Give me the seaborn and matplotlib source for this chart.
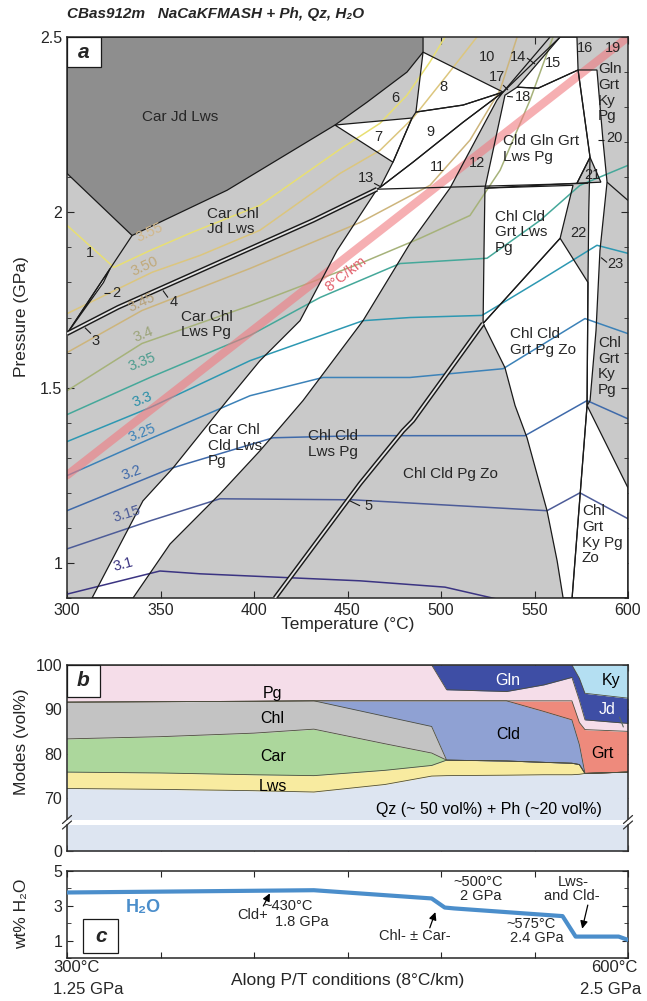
import numpy as np
import pandas as pd
import seaborn as sns
import matplotlib.pyplot as plt
from matplotlib.patches import Polygon, Rectangle
from matplotlib.lines import Line2D
from matplotlib.ticker import MultipleLocator, FuncFormatter

sns.set_style("ticks")
plt.rcParams['font.family'] = ['Liberation Sans', 'DejaVu Sans']
plt.rcParams['axes.linewidth'] = 1.1

# ---------------- panel a: fields (T degC, P GPa) ----------------
field_car_jd_lws = [(300, 2.5), (490.4, 2.5), (490.4, 2.457), (481.8, 2.400), (460.4, 2.314),
                    (443.3, 2.249), (385.6, 2.063), (334.8, 1.934), (300, 2.111)]
field_band = [(313.4, 0.9), (340.6, 1.177), (356.7, 1.271), (385.6, 1.463), (403.2, 1.577),
              (424.6, 1.691), (444.4, 1.891), (465.8, 2.066), (467.4, 2.071), (485.0, 2.143),
              (511.8, 2.257), (533.2, 2.343), (529.9, 2.320), (504.8, 2.069), (483.4, 1.911),
              (458.3, 1.691), (426.2, 1.463), (403.2, 1.320), (381.8, 1.197), (355.1, 1.054),
              (335.3, 0.9)]
field_7 = [(443.3, 2.249), (484.5, 2.269), (474.3, 2.143)]
field_8 = [(490.4, 2.457), (533.2, 2.343), (511.8, 2.306), (486.6, 2.286)]
field_9 = [(486.6, 2.286), (511.8, 2.306), (533.2, 2.343), (511.8, 2.257), (485.0, 2.143),
           (467.4, 2.071), (474.3, 2.143), (484.5, 2.269)]
field_15 = [(540.7, 2.357), (563.7, 2.5), (572.7, 2.5), (573.3, 2.406), (551.9, 2.354)]
field_cgg = [(534.2, 2.334), (540.7, 2.357), (551.9, 2.354), (573.3, 2.406), (579.7, 2.157),
             (572.7, 2.083), (523.5, 2.069)]
field_strip = [(573.3, 2.406), (579.7, 2.157), (579.0, 2.0), (578.6, 1.800), (578.1, 1.449),
               (579.7, 1.463), (582.9, 1.663), (585.0, 1.891), (588.8, 2.086), (586.6, 2.206),
               (583.4, 2.406)]
field_21 = [(572.7, 2.083), (579.7, 2.157), (585.5, 2.086)]
field_ccglp = [(523.5, 2.069), (570.6, 2.077), (563.7, 1.926), (522.5, 1.683), (523.0, 1.891)]
field_cgz = [(522.5, 1.683), (563.7, 1.926), (578.6, 1.800), (578.1, 1.449), (570.1, 0.9),
             (565.3, 0.9), (562.1, 1.006), (556.7, 1.149), (546.0, 1.357), (539.6, 1.449),
             (534.2, 1.557)]
field_gkpz = [(578.1, 1.449), (600, 1.214), (600, 0.9), (570.1, 0.9)]
field_2 = [(300, 1.654), (323.1, 1.84), (319.5, 1.80)]

line_jd_out = [(300, 1.654), (327.3, 1.729), (431.6, 1.977), (465.8, 2.066)]
line_zo_in = [(411.2, 0.9), (456.7, 1.226), (479.7, 1.377), (485.0, 1.406), (522.5, 1.683)]
line_field1 = [(300, 1.654), (334.8, 1.934)]
line_14a = [(533.2, 2.343), (558.3, 2.5)]
line_14b = [(533.2, 2.343), (563.7, 2.5)]
line_flat = [(465.8, 2.066), (578.6, 2.083)]
line_right = [(588.8, 2.086), (600, 2.034)]

# isopleths (g/cm3)
iso_310 = [(300, 0.911), (349.7, 0.977), (371.1, 0.969), (456.7, 0.949), (502.1, 0.931), (529.9, 0.897)]
iso_315 = [(300, 1.040), (344.4, 1.120), (381.8, 1.183), (453.0, 1.180), (556.7, 1.149), (574.3, 1.200), (600, 1.126)]
iso_320 = [(300, 1.149), (355.1, 1.269), (410.2, 1.357), (456.7, 1.363), (544.9, 1.363), (578.1, 1.463), (600, 1.411)]
iso_325 = [(300, 1.249), (344.4, 1.354), (397.9, 1.477), (436.9, 1.529), (483.4, 1.529), (533.2, 1.554), (577.0, 1.697), (600, 1.654)]
iso_330 = [(300, 1.346), (344.4, 1.443), (397.9, 1.577), (458.3, 1.691), (483.4, 1.700), (521.9, 1.706), (553.0, 1.806), (583.4, 1.906), (600, 1.883)]
iso_335 = [(300, 1.423), (344.4, 1.529), (397.9, 1.649), (435.3, 1.757), (478.1, 1.854), (524.6, 1.869), (553.0, 1.977), (574.3, 2.077), (600, 2.134)]
iso_340 = [(300, 1.491), (340.1, 1.626), (397.9, 1.734), (456.7, 1.854), (488.8, 1.926), (515.5, 1.991), (531.6, 2.120), (547.6, 2.320), (559.9, 2.5)]
iso_345 = [(300, 1.600), (340.1, 1.720), (397.9, 1.840), (456.7, 1.971), (494.1, 2.077), (515.5, 2.206), (531.6, 2.349), (540.7, 2.5)]
iso_350 = [(300, 1.711), (345.5, 1.829), (371.1, 1.877), (403.2, 1.949), (446.0, 2.111), (467.4, 2.177), (485.0, 2.269), (503.2, 2.391), (519.2, 2.5)]
iso_355 = [(300, 1.963), (325.1, 1.843), (344.4, 1.891), (366.9, 1.943), (403.2, 2.020), (446.0, 2.180), (467.4, 2.254), (481.8, 2.334), (494.1, 2.429), (502.1, 2.5)]
iso_names = ["3.1", "3.15", "3.2", "3.25", "3.3", "3.35", "3.4", "3.45", "3.50", "3.55"]
iso_lines = [iso_310, iso_315, iso_320, iso_325, iso_330, iso_335, iso_340, iso_345, iso_350, iso_355]
iso_colors = ["#3b3482", "#4d5c98", "#3f6aaa", "#3c82b8", "#2d98b2", "#45a89a",
              "#a6b27a", "#cdb57c", "#dcc67e", "#e8df72"]
iso_text_colors = ["#3b3482", "#4d5c98", "#3f6aaa", "#3c82b8", "#2a8fa8", "#4d9c8e",
                   "#9ca47a", "#b8a27a", "#c0a97a", "#d2b88a"]
iso_label_T = [329.9, 332.1, 334.8, 340.1, 340.1, 340.1, 340.6, 340.1, 341.7, 344.4]
iso_label_P = [0.995, 1.140, 1.256, 1.370, 1.466, 1.572, 1.652, 1.743, 1.846, 1.942]
iso_label_rot = [15, 17, 20, 22, 22, 22, 22, 25, 25, 25]

geotherm_T = [300, 600]
geotherm_P = [1.25, 2.5]

field_labels = [
    ("Car Jd Lws", 360.4, 2.271, "center"),
    ("Car Chl\nJd Lws", 374.9, 1.974, "left"),
    ("Car Chl\nLws Pg", 361.0, 1.680, "left"),
    ("Car Chl\nCld Lws\nPg", 375.4, 1.334, "left"),
    ("Chl Cld\nLws Pg", 428.9, 1.340, "left"),
    ("Chl Cld Pg Zo", 504.8, 1.254, "center"),
    ("Cld Gln Grt\nLws Pg", 533.2, 2.180, "left"),
    ("Chl Cld\nGrt Lws\nPg", 528.9, 1.943, "left"),
    ("Chl Cld\nGrt Pg Zo", 536.9, 1.631, "left"),
    ("Chl\nGrt\nKy\nPg", 584.0, 1.560, "left"),
    ("Gln\nGrt\nKy\nPg", 584.0, 2.341, "left"),
    ("Chl\nGrt\nKy Pg\nZo", 575.4, 1.080, "left"),
]
number_labels = [("1", 312.3, 1.883), ("2", 326.2, 1.771), ("3", 315.0, 1.634), ("4", 357.0, 1.743),
                 ("5", 461.0, 1.163), ("6", 475.4, 2.326), ("7", 466.3, 2.214), ("8", 501.1, 2.357),
                 ("9", 494.1, 2.229), ("10", 524.6, 2.443), ("11", 497.9, 2.129), ("12", 519.3, 2.140),
                 ("13", 459.9, 2.097), ("14", 541.2, 2.443), ("15", 559.9, 2.426), ("16", 577.0, 2.469),
                 ("17", 529.9, 2.386), ("18", 543.8, 2.329), ("19", 591.8, 2.469), ("20", 592.5, 2.211),
                 ("21", 580.8, 2.106), ("22", 573.3, 1.940), ("23", 593.5, 1.854)]
leaders = [[(319.8, 1.771), (323.0, 1.771)], [(309.6, 1.671), (312.8, 1.654)],
           [(351.3, 1.777), (354.0, 1.757)], [(451.3, 1.177), (456.7, 1.163)],
           [(464.2, 2.083), (467.4, 2.074)], [(546.0, 2.440), (550.3, 2.423)],
           [(533.2, 2.363), (535.8, 2.349)], [(535.3, 2.331), (538.5, 2.329)],
           [(584.0, 2.206), (587.2, 2.206)], [(585.6, 1.871), (588.8, 1.857)]]

# ---------------- panel b: modes along the 8 degC/km path ----------------
mode_T = [300, 350, 400, 432, 470, 495, 503, 535, 555, 570, 574, 577, 600]
qzph_top = [72.1, 71.9, 71.6, 71.3, 73.0, 74.9, 75.0, 75.1, 75.2, 75.2, 75.3, 75.5, 75.8]
lws_top = [75.8, 75.6, 75.2, 75.0, 76.2, 77.3, 78.5, 78.3, 78.0, 77.8, 77.5, 75.5, 75.8]
car_top = [83.3, 83.8, 84.6, 85.5, 82.2, 80.1, 78.5, 78.3, 78.0, 77.8, 77.5, 75.5, 75.8]
chl_top = [91.6, 91.7, 91.8, 91.9, 88.4, 86.1, 78.5, 78.3, 78.0, 77.8, 77.5, 75.5, 75.8]
cld_top = [91.6, 91.7, 91.8, 91.9, 91.9, 91.9, 91.9, 91.9, 89.5, 87.6, 82.0, 75.5, 75.8]
grt_top = [91.6, 91.7, 91.8, 91.9, 91.9, 91.9, 91.9, 91.9, 91.9, 91.9, 87.0, 85.4, 85.0]
pg_top = [100, 100, 100, 100, 100, 100, 94.4, 94.0, 95.5, 97.2, 92.0, 87.6, 86.8]
gln_jd_top = [100, 100, 100, 100, 100, 100, 100, 100, 100, 100, 97.0, 93.6, 92.5]
mode_layers = [("Qz+Ph", None, qzph_top, "#dde5f1"), ("Lws", qzph_top, lws_top, "#f8eba0"),
               ("Car", lws_top, car_top, "#acd79c"), ("Chl", car_top, chl_top, "#c3c3c3"),
               ("Cld", chl_top, cld_top, "#8fa1d3"), ("Grt", cld_top, grt_top, "#ee8a7c"),
               ("Pg", grt_top, pg_top, "#f5dde9"), ("Gln", pg_top, gln_jd_top, "#3e4ea5"),
               ("Ky", gln_jd_top, None, "#b4dff2")]
mode_labels = [("Pg", 410, 93.6, "k"), ("Chl", 410, 88.0, "k"), ("Car", 410, 79.4, "k"),
               ("Lws", 410, 72.6, "k"), ("Gln", 535.7, 96.6, "white"), ("Cld", 535.7, 84.2, "k"),
               ("Grt", 586.5, 80.1, "k"), ("Ky", 591.0, 96.6, "k"), ("Jd", 588.6, 89.9, "white"),
               ("Qz (~ 50 vol%) + Ph (~20 vol%)", 525.8, 67.4, "k")]

# ---------------- panel c: bulk H2O ----------------
h2o_T = [300, 432, 495, 502, 507, 565, 572, 595, 600]
h2o_wt = [3.77, 3.90, 3.43, 2.91, 2.86, 2.42, 1.25, 1.25, 1.06]
c_notes = [("Cld+", 399.0, 2.49), ("~430°C", 418.0, 3.0), ("1.8 GPa", 425.7, 2.09),
           ("~500°C", 520.0, 4.37), ("2 GPa", 521.0, 3.57), ("Chl- ± Car-", 486.0, 1.29),
           ("Lws-", 570.6, 4.37), ("and Cld-", 570.0, 3.57), ("~575°C", 548.0, 1.97),
           ("2.4 GPa", 551.0, 1.17)]
c_arrows = [((405.0, 3.0), (408.5, 3.72)), ((494.0, 1.75), (497.0, 2.65)),
            ((578.5, 3.05), (575.5, 1.7))]

# =================================================================
fig = plt.figure(figsize=(6.47, 10.01), dpi=100)
L, W = 67 / 647, 561 / 647
ax_a = fig.add_axes([L, 0.4026, W, 0.5604])
ax_b = fig.add_axes([L, 0.1818, W, 0.1539])
ax_b0 = fig.add_axes([L, 0.1499, W, 0.0260])
ax_c = fig.add_axes([L, 0.0425, W, 0.0874])

edge = "#1a1a1a"


def add_field(ax, pts, fc):
    ax.add_patch(Polygon(pts, closed=True, facecolor=fc, edgecolor="none", zorder=1))
    ax.add_patch(Polygon(pts, closed=True, fill=False, edgecolor=edge, lw=0.9, zorder=3))


def add_line(ax, pts, lw=0.9, color=edge, z=3):
    xs, ys = zip(*pts)
    ax.plot(xs, ys, color=color, lw=lw, zorder=z, solid_capstyle="butt")


ax_a.set_facecolor("#c9c9c9")
add_field(ax_a, field_car_jd_lws, "#8e8e8e")
for f in [field_band, field_7, field_8, field_9, field_15, field_cgg, field_strip,
          field_ccglp, field_cgz, field_gkpz, field_2]:
    add_field(ax_a, f, "white")
add_field(ax_a, field_21, "#c9c9c9")

for pts in [line_field1, line_14a, line_14b, line_flat, line_right]:
    add_line(ax_a, pts)
for pts in [line_jd_out, line_zo_in]:
    add_line(ax_a, pts, lw=3.4)
    add_line(ax_a, pts, lw=1.3, color="#e4e4e4", z=3.1)
for pts in leaders:
    add_line(ax_a, pts, lw=0.8)

iso_df = pd.concat([pd.DataFrame({"T": [p[0] for p in pts], "P": [p[1] for p in pts],
                                  "iso": name})
                    for name, pts in zip(iso_names, iso_lines)])
sns.lineplot(data=iso_df, x="T", y="P", hue="iso", palette=dict(zip(iso_names, iso_colors)),
             sort=False, estimator=None, legend=False, lw=1.1, ax=ax_a, zorder=2)
for name, t, p, r, c in zip(iso_names, iso_label_T, iso_label_P, iso_label_rot, iso_text_colors):
    ax_a.text(t, p, name, color=c, fontsize=10.5, rotation=r, ha="center", va="center",
              rotation_mode="anchor", zorder=4)

sns.lineplot(x=geotherm_T, y=geotherm_P, color="#f07a80", lw=6, alpha=0.6, ax=ax_a,
             zorder=2.5, sort=False)
ax_a.text(449, 1.825, "8°C/km", color="#e2606c", fontsize=10.5, rotation=38, ha="center",
          va="center", rotation_mode="anchor", zorder=4)

for txt, t, p, ha in field_labels:
    ax_a.text(t, p, txt, fontsize=11, ha=ha, va="center", linespacing=1.15, zorder=5)
for txt, t, p in number_labels:
    ax_a.text(t, p, txt, fontsize=10.5, ha="center", va="center", zorder=5)

ax_a.set_xlim(300, 600)
ax_a.set_ylim(0.9, 2.5)
ax_a.xaxis.set_major_locator(MultipleLocator(50))
ax_a.yaxis.set_major_locator(MultipleLocator(0.5))
ax_a.yaxis.set_minor_locator(MultipleLocator(0.1))
ax_a.yaxis.set_major_formatter(FuncFormatter(lambda v, _: f"{v:g}"))
ax_a.tick_params(which="both", direction="in", top=True, right=True, labelsize=11.5)
ax_a.tick_params(which="major", length=5)
ax_a.tick_params(which="minor", length=3)
ax_a.add_patch(Rectangle((0, 1 - 30 / 561), 34 / 561, 30 / 561, transform=ax_a.transAxes,
                         facecolor="white", edgecolor=edge, lw=0.9, zorder=6))
ax_a.text(17 / 561, 1 - 15 / 561, "a", transform=ax_a.transAxes, fontsize=15, weight="bold",
          style="italic", ha="center", va="center", zorder=7)

# ---- panel b ----
for ax in (ax_b, ax_b0):
    for name, lo, hi, col in mode_layers:
        y0 = [0] * len(mode_T) if lo is None else lo
        y1 = [100] * len(mode_T) if hi is None else hi
        ax.fill_between(mode_T, y0, y1, color=col, lw=0, zorder=1)
    for b in [qzph_top, lws_top, car_top, chl_top, cld_top, grt_top, pg_top, gln_jd_top]:
        sns.lineplot(x=mode_T, y=b, color="#4e4e3e", lw=0.6, ax=ax, sort=False, zorder=2)
    ax.set_xlim(300, 600)
    ax.xaxis.set_major_locator(MultipleLocator(50))
    ax.tick_params(direction="in", top=True, right=True, labelsize=11.5, length=4,
                   labelbottom=False)
ax_b.set_ylim(65.2, 100)
ax_b.set_yticks([70, 80, 90, 100])
ax_b.spines["bottom"].set_visible(False)
ax_b.tick_params(bottom=False)
ax_b0.set_ylim(0, 5.9)
ax_b0.set_yticks([0])
ax_b0.spines["top"].set_visible(False)
ax_b0.tick_params(top=False)
for txt, t, v, c in mode_labels:
    ax_b.text(t, v, txt, color=c, fontsize=11.5, ha="center", va="center", zorder=5)
ax_b.plot([595.5, 597.5], [88.2, 86.0], color="#5a6a5a", lw=0.8, zorder=5)
ax_b.add_patch(Rectangle((0, 1 - 32 / 154), 33 / 561, 32 / 154, transform=ax_b.transAxes,
                         facecolor="white", edgecolor=edge, lw=0.9, zorder=6))
ax_b.text(16.5 / 561, 1 - 16 / 154, "b", transform=ax_b.transAxes, fontsize=15, weight="bold",
          style="italic", ha="center", va="center", zorder=7)

for xf in (67 / 647, 628 / 647):
    for yf in (1 - 819.5 / 1001, 1 - 825 / 1001):
        fig.add_artist(Line2D([xf - 0.007, xf + 0.007], [yf - 0.004, yf + 0.004],
                              color="#333333", lw=0.9, transform=fig.transFigure))

# ---- panel c ----
sns.lineplot(x=h2o_T, y=h2o_wt, color="#4b8ecb", lw=3, ax=ax_c, sort=False, zorder=3)
ax_c.set_xlim(300, 600)
ax_c.set_ylim(0, 5)
ax_c.set_yticks([1, 3, 5])
ax_c.yaxis.set_minor_locator(MultipleLocator(1))
ax_c.xaxis.set_major_locator(MultipleLocator(50))
ax_c.tick_params(which="both", direction="in", top=True, right=True, labelsize=11.5,
                 labelbottom=False)
ax_c.tick_params(which="major", length=4)
ax_c.tick_params(which="minor", length=3)
ax_c.text(340.6, 2.89, "H₂O", color="#4b8ecb", fontsize=13, weight="bold", ha="center",
          va="center")
ax_c.add_patch(Rectangle((308.8, 0.3), 18.7, 1.93, facecolor="white", edgecolor=edge, lw=0.9,
                         zorder=6))
ax_c.text(318.2, 1.27, "c", fontsize=15, weight="bold", style="italic", ha="center",
          va="center", zorder=7)
for txt, t, v in c_notes:
    ax_c.text(t, v, txt, fontsize=10.5, ha="center", va="center", zorder=5)
for tail, head in c_arrows:
    ax_c.annotate("", xy=head, xytext=tail,
                  arrowprops=dict(arrowstyle="-|>,head_length=0.45,head_width=0.22",
                                  color="k", lw=0.9, shrinkA=0, shrinkB=0))
for ax in (ax_a, ax_b, ax_b0, ax_c):
    ax.set_xlabel("")
    ax.set_ylabel("")

# ---- texts around ----
fig.text(67 / 647, 1 - 14 / 1001, "CBas912m   NaCaKFMASH + Ph, Qz, H₂O", fontsize=11,
         weight="bold", style="italic", ha="left", va="center")
fig.text(347.5 / 647, 1 - 625 / 1001, "Temperature (°C)", fontsize=12.5, ha="center",
         va="center")
fig.text(22 / 647, 1 - 317 / 1001, "Pressure (GPa)", fontsize=12.5, rotation=90, ha="center",
         va="center")
fig.text(22 / 647, 1 - 742 / 1001, "Modes (vol%)", fontsize=12.5, rotation=90, ha="center",
         va="center")
fig.text(22 / 647, 1 - 914 / 1001, "wt% H₂O", fontsize=12.5, rotation=90, ha="center",
         va="center")
fig.text(53 / 647, 1 - 968 / 1001, "300°C", fontsize=12, ha="left", va="center")
fig.text(53 / 647, 1 - 990 / 1001, "1.25 GPa", fontsize=12, ha="left", va="center")
fig.text(638 / 647, 1 - 968 / 1001, "600°C", fontsize=12, ha="right", va="center")
fig.text(641 / 647, 1 - 990 / 1001, "2.5 GPa", fontsize=12, ha="right", va="center")
fig.text(348 / 647, 1 - 980 / 1001, "Along P/T conditions (8°C/km)", fontsize=12.5,
         ha="center", va="center")

fig.savefig("out.png", dpi=100)
